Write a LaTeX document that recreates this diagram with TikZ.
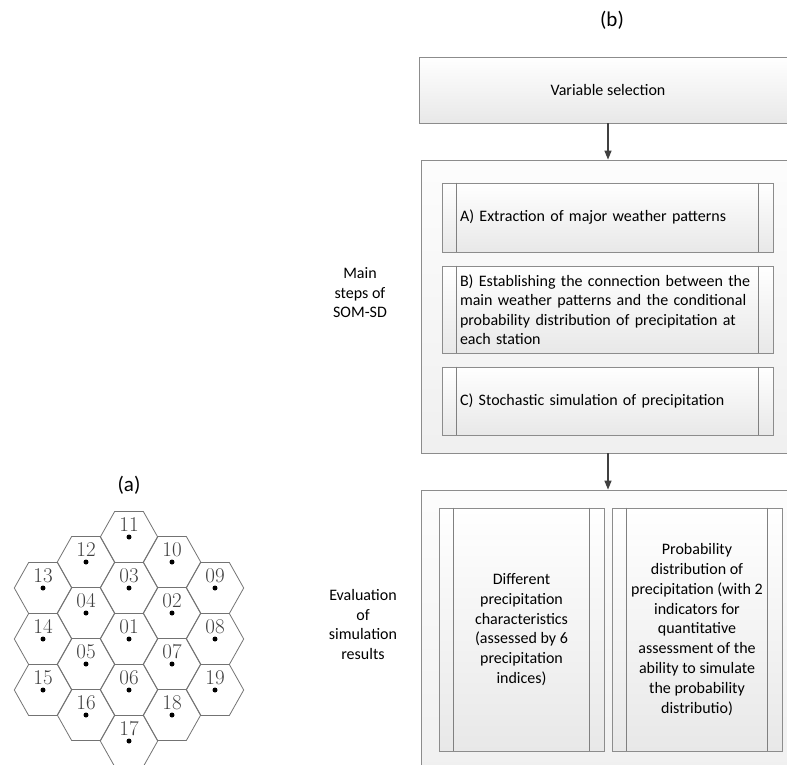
\documentclass[tikz,border=0pt]{standalone}
\usepackage{fontspec}
\newfontfamily\flowfont{Carlito}
\usepackage{tikz}
\usetikzlibrary{math}
\usetikzlibrary{arrows.meta}
\usetikzlibrary{shadows}
\usetikzlibrary{positioning}

\tikzset{
  box/.style={draw=black!45, line width=0.8pt, top color=white, bottom color=black!9,
    drop shadow={shadow xshift=1.3pt, shadow yshift=-1.3pt, opacity=0.3, fill=black!40},
    font=\flowfont\fontsize{16}{19.5}\selectfont, inner sep=0pt},
  frame/.style={box, top color=black!1, bottom color=black!6},
  procbox/.style={box, align=left, text width=295pt, inner xsep=18pt, minimum width=331pt},
  evalbox/.style={box, align=center, font=\flowfont\fontsize{16}{19.8}\selectfont},
  sideline/.style={draw=black!50, line width=0.8pt},
  arr/.style={-{Triangle[length=9pt, width=7pt]}, line width=1.3pt, draw=black!75},
  sidelabel/.style={align=center, font=\flowfont\fontsize{16}{19.5}\selectfont},
  hexline/.style={draw=black!55, line width=0.8pt},
  hexlabel/.style={text=black!75, inner sep=0pt, font=\fontsize{21}{21}\selectfont},
}

\begin{document}
\begin{tikzpicture}[x=1pt, y=-1pt]
  \useasboundingbox (0, 0) rectangle (787, 764);
  \clip (0, 0) rectangle (787, 764);

  \tikzmath{
    \hs = 28.7;
    \hh = 25.5;
  }

  % panel (a): station grid
  \node[font=\flowfont\fontsize{21}{21}\selectfont] (capa) at (129, 485) {(a)};
  \foreach \lbl/\cx/\cy in {11/129/537, 12/86/562, 10/172/562, 13/43/588, 03/129/588, 09/215/588,
      04/86/613, 02/172/613, 14/43/639, 01/129/639, 08/215/639, 05/86/664, 07/172/664,
      15/43/690, 06/129/690, 19/215/690, 16/86/715, 18/172/715, 17/129/741} {
    \draw[hexline] (\cx-\hs, \cy) -- (\cx-\hs/2, \cy-\hh) -- (\cx+\hs/2, \cy-\hh)
      -- (\cx+\hs, \cy) -- (\cx+\hs/2, \cy+\hh) -- (\cx-\hs/2, \cy+\hh) -- cycle;
    \node[hexlabel] (hex\lbl) at (\cx, \cy-12.5) {\lbl};
    \fill (\cx, \cy) circle[radius=2.5pt];
  }

  % panel (b): flow chart
  \node[font=\flowfont\fontsize{21}{21}\selectfont] (capb) at (612, 20) {(b)};

  \node[box, minimum width=377pt, minimum height=66pt] (varsel) at (608, 90) {Variable selection};

  \node[frame, minimum width=374pt, minimum height=293pt] (steps) at (608, 306.5) {};
  \node[procbox, minimum height=69pt] (stepA) at (607.5, 217.5) {A) Extraction of major weather patterns};
  \node[procbox, minimum height=87pt] (stepB) at (607.5, 309.5)
    {B) Establishing the connection between the\\main weather patterns and the conditional\\probability distribution of precipitation at\\each station};
  \node[procbox, minimum height=68pt] (stepC) at (607.5, 401) {C) Stochastic simulation of precipitation};

  \node[frame, minimum width=374pt, minimum height=290pt] (evals) at (608, 635) {};
  \node[evalbox, minimum width=165pt, minimum height=243pt] (evalA) at (521.5, 629.5)
    {Different\\precipitation\\characteristics\\(assessed by 6\\precipitation\\indices)};
  \node[evalbox, minimum width=170pt, minimum height=243pt] (evalB) at (697, 629.5)
    {Probability\\distribution of\\precipitation (with 2\\indicators for\\quantitative\\assessment of the\\ability to simulate\\the probability\\distributio)};

  % double side lines of the process boxes
  \foreach \n in {stepA, stepB, stepC, evalA, evalB} {
    \draw[sideline] ([xshift=15pt]\n.north west) -- ([xshift=15pt]\n.south west);
    \draw[sideline] ([xshift=-15pt]\n.north east) -- ([xshift=-15pt]\n.south east);
  }

  \draw[arr] (varsel) -- (steps);
  \draw[arr] (steps) -- (evals);

  \node[sidelabel] (mainlbl) at (360, 293) {Main\\steps of\\SOM-SD};
  \node[sidelabel] (evallbl) at (363, 624.5) {Evaluation\\of\\simulation\\results};
\end{tikzpicture}
\end{document}
